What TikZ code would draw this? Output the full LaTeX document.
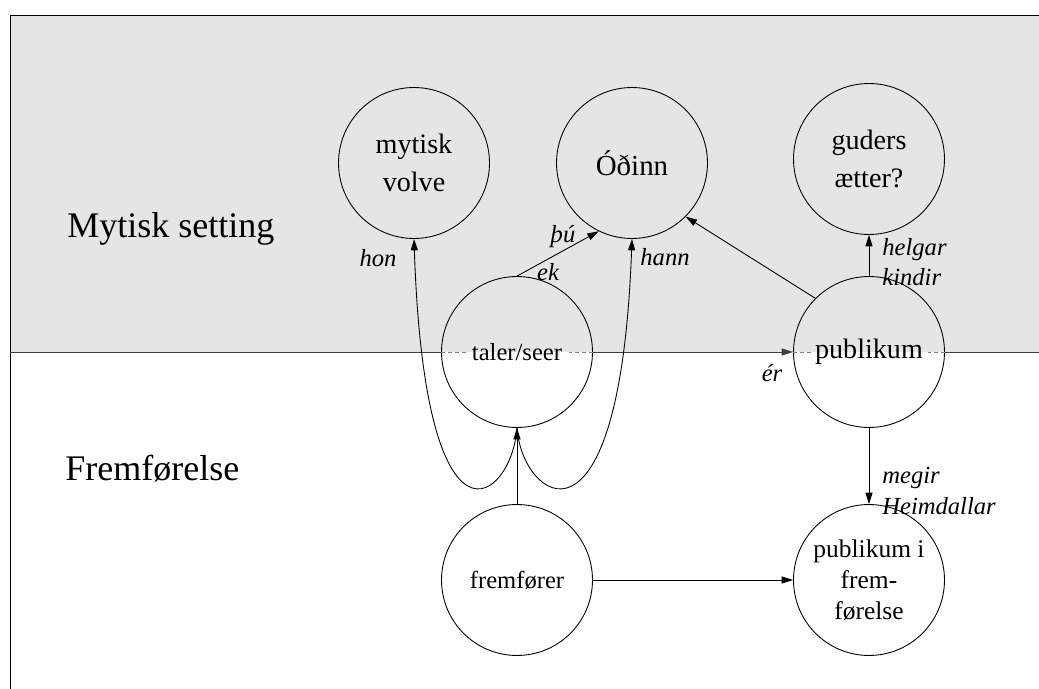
\documentclass[tikz,border=0pt]{standalone}
\usepackage{fontspec}
\setmainfont{Liberation Serif}
\usetikzlibrary{arrows.meta}

\begin{document}
\begin{tikzpicture}[x=0.02cm, y=-0.02cm,
        role/.style={draw, circle, minimum size=3.02cm, inner sep=0pt, align=center, line width=0.5pt},
        conn/.style={line width=0.5pt, -{Triangle[length=6.5pt,width=4pt]}},
        word/.style={font=\fontsize{14}{17.5}\selectfont\itshape, align=left, inner sep=0pt},
        big/.style={anchor=base west, inner sep=0pt, font=\fontsize{20.5}{24}\selectfont}]
            \useasboundingbox (0,0) rectangle (1039,689);
            % Background
            \fill[black!10] (10,15) rectangle (1039,352);
            \draw[line width=0.5pt] (1039,15) -- (10,15) -- (10,689);
            \coordinate (lft) at (10,352);
            \coordinate (rgt) at (1039,352);

            % Nodes
            \node[big] (myth) at (67,238) {Mytisk setting};
            \node[big] (perf) at (65,480) {Fremførelse};
            \node[role, font=\fontsize{16}{21.5}\selectfont] (volve) at (414,163) {mytisk\\volve};
            \node[role, font=\fontsize{16.5}{21.5}\selectfont] (odinn) at (632,163) {Óðinn};
            \node[role, font=\fontsize{16}{21.5}\selectfont] (guder) at (869,159) {guders\\ætter?};
            \node[role, font=\fontsize{14}{17}\selectfont] (taler) at (517,352) {taler/seer};
            \node[role, font=\fontsize{16}{21.5}\selectfont] (publ) at (869,352) {publikum};
            \node[role, font=\fontsize{14}{17}\selectfont] (fremf) at (517,580) {fremfører};
            \node[role, font=\fontsize{14.5}{17.5}\selectfont] (publff) at (869,580) {publikum i\\frem-\\førelse};

            % Labels
            \node[word] (hon) at (378,258) {hon};
            \node[word] (hann) at (665,257) {hann};
            \node[word] (thu) at (563,237) {þú};
            \node[word] (ek) at (548,272) {ek};
            \node[word] (er) at (772,373) {ér};
            \node[word, anchor=west] (helgar) at (882,262) {helgar\\kindir};
            \node[word, anchor=west] (megir) at (882,491) {megir\\Heimdallar};

            % Lines
            \draw[line width=0.5pt, black!75] (lft) -- (taler.west);
            \draw[line width=0.5pt, black!50, dash pattern=on 2pt off 2pt] (taler.west) -- ++(27,0);
            \draw[line width=0.5pt, black!50, dash pattern=on 2pt off 2pt] (taler.east) -- ++(-24,0);
            \draw[conn, black!75] (taler.east) -- (publ.west);
            \draw[line width=0.5pt, black!50, dash pattern=on 2pt off 2pt] (publ.west) -- ++(19,0);
            \draw[line width=0.5pt, black!50, dash pattern=on 2pt off 2pt] (publ.east) -- ++(-17,0);
            \draw[line width=0.5pt, black!75] (publ.east) -- (rgt);

            \draw[conn] (taler.south) .. controls (512,500) and (425,570) .. (volve.south);
            \draw[conn] (taler.south) .. controls (522,500) and (620,570) .. (odinn.south);
            \draw[conn] (fremf.north) -- (taler.south);
            \draw[conn] (taler.north) -- (odinn.244);
            \draw[conn] (publ.135) -- (odinn.-45);
            \draw[conn] (publ.north) -- (guder.south);
            \draw[conn] (publ.south) -- (publff.north);
            \draw[conn] (fremf.east) -- (publff.west);
        \end{tikzpicture}
\end{document}
